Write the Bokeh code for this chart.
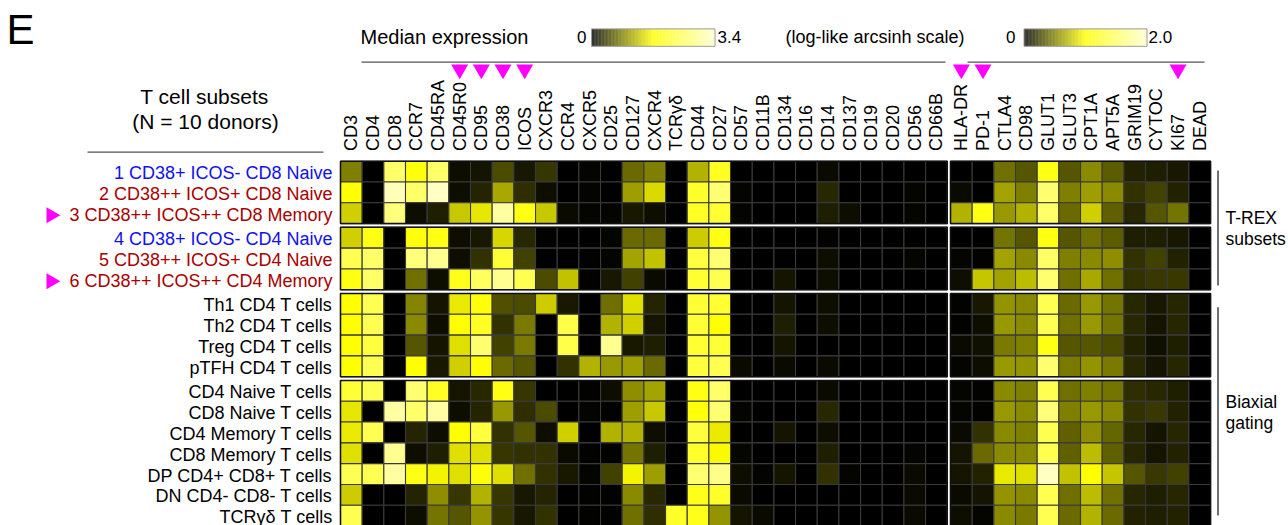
import math
from bokeh.plotting import figure
from bokeh.models import Range1d, ColumnDataSource, LinearColorMapper
from bokeh.transform import transform
from bokeh.core.properties import value
from bokeh.embed import file_html
from bokeh.resources import INLINE

# ---------------- data ----------------
panel_markers = ["CD3", "CD4", "CD8", "CCR7", "CD45RA", "CD45R0", "CD95", "CD38", "ICOS",
                 "CXCR3", "CCR4", "CXCR5", "CD25", "CD127", "CXCR4", "TCRγδ", "CD44", "CD27",
                 "CD57", "CD11B", "CD134", "CD16", "CD14", "CD137", "CD19", "CD20", "CD56", "CD66B"]
metab_markers = ["HLA-DR", "PD-1", "CTLA4", "CD98", "GLUT1", "GLUT3", "CPT1A", "APT5A",
                 "GRIM19", "CYTOC", "KI67", "DEAD"]
subsets = ["1 CD38+ ICOS- CD8 Naive", "2 CD38++ ICOS+ CD8 Naive", "3 CD38++ ICOS++ CD8 Memory",
           "4 CD38+ ICOS- CD4 Naive", "5 CD38++ ICOS+ CD4 Naive", "6 CD38++ ICOS++ CD4 Memory",
           "Th1 CD4 T cells", "Th2 CD4 T cells", "Treg CD4 T cells", "pTFH CD4 T cells",
           "CD4 Naive T cells", "CD8 Naive T cells", "CD4 Memory T cells", "CD8 Memory T cells",
           "DP CD4+ CD8+ T cells", "DN CD4- CD8- T cells", "TCRγδ T cells"]
subset_group = [0, 0, 0, 1, 1, 1, 2, 2, 2, 2, 3, 3, 3, 3, 3, 3, 3]
flagged_markers = ["CD45R0", "CD95", "CD38", "ICOS", "HLA-DR", "PD-1", "KI67"]
flagged_subsets = ["3 CD38++ ICOS++ CD8 Memory", "6 CD38++ ICOS++ CD4 Memory"]
panel_scale_max = 3.4
metab_scale_max = 2.0

# median arcsinh expression, surface panel (0 - 3.4)
panel_expr = [
    [0.85, 0, 2.55, 1.8, 2.55, 0.1, 0.14, 0.51, 0.17, 0.37, 0, 0.03, 0, 0.71, 0.85, 0, 1.19, 1.97, 0, 0, 0, 0, 0.07, 0, 0, 0, 0, 0],
    [1.7, 0, 3.23, 2.55, 3.33, 0.1, 0.24, 1.12, 0.31, 0.1, 0, 0.03, 0, 1.05, 1.46, 0, 2.04, 2.65, 0.03, 0, 0, 0, 0.27, 0, 0, 0, 0.03, 0],
    [1.39, 0, 2.72, 0.1, 0.2, 1.33, 1.53, 3.03, 1.87, 1.33, 0.07, 0.03, 0.03, 0.17, 0.1, 0, 2.0, 2.11, 0.03, 0, 0, 0, 0.2, 0.1, 0, 0, 0.03, 0],
    [1.39, 1.87, 0, 1.8, 1.87, 0.1, 0.17, 1.43, 0.27, 0.02, 0, 0, 0.03, 0.71, 0.71, 0, 1.36, 1.87, 0, 0, 0, 0, 0.02, 0, 0, 0, 0, 0],
    [2.38, 2.55, 0, 2.72, 2.89, 0.1, 0.34, 2.14, 0.44, 0, 0, 0.02, 0.03, 1.09, 1.29, 0, 2.21, 2.65, 0, 0, 0, 0, 0.1, 0, 0, 0, 0.03, 0],
    [1.87, 2.55, 0, 0.75, 0.1, 1.9, 2.48, 2.89, 2.38, 0.51, 1.29, 0.02, 0.17, 0.44, 0.07, 0, 2.11, 2.38, 0, 0, 0.14, 0, 0.1, 0, 0, 0, 0, 0],
    [1.7, 2.38, 0, 0.88, 0.14, 1.56, 1.77, 0.54, 0.51, 1.36, 0.17, 0, 0.75, 1.5, 0.24, 0, 2.14, 2.11, 0, 0, 0.14, 0, 0.1, 0, 0, 0, 0, 0],
    [1.7, 2.38, 0, 0.92, 0.1, 1.7, 2.0, 0.34, 0.82, 0, 2.31, 0, 1.19, 1.39, 0.14, 0, 2.14, 1.7, 0, 0, 0.2, 0, 0.1, 0, 0, 0, 0, 0],
    [1.7, 2.21, 0, 0.58, 0.14, 1.5, 2.62, 0.44, 0.82, 0, 2.31, 0, 2.89, 0.17, 0.2, 0, 2.11, 2.14, 0, 0, 0.14, 0, 0, 0, 0, 0, 0, 0],
    [1.7, 2.38, 0, 1.7, 0.17, 1.39, 1.7, 0.71, 0.58, 0, 0.34, 1.19, 1.02, 1.05, 0.71, 0, 2.21, 2.38, 0.07, 0, 0.07, 0, 0.07, 0, 0, 0, 0, 0],
    [2.14, 2.38, 0, 2.62, 2.0, 0.14, 0.27, 1.87, 0.37, 0, 0, 0.02, 0.1, 0.95, 1.09, 0, 1.87, 2.55, 0, 0, 0, 0, 0.07, 0, 0, 0, 0, 0],
    [1.53, 0, 3.03, 2.55, 3.03, 0.1, 0.24, 1.02, 0.31, 0.51, 0, 0.03, 0.02, 1.05, 1.33, 0, 1.77, 2.65, 0.03, 0, 0, 0, 0.27, 0, 0, 0, 0, 0],
    [1.56, 2.38, 0, 0.24, 0.1, 1.7, 2.21, 0.34, 0.58, 0.1, 1.39, 0, 1.19, 1.19, 0.1, 0, 2.21, 1.56, 0, 0, 0.14, 0, 0.1, 0, 0, 0, 0, 0],
    [1.5, 0, 2.89, 0.1, 0.2, 1.5, 1.5, 0.37, 0.34, 0.34, 0.07, 0.02, 0.02, 0.78, 0.2, 0, 2.04, 1.67, 0.05, 0, 0, 0, 0.2, 0, 0, 0, 0.03, 0],
    [2.38, 2.38, 3.03, 1.87, 1.63, 1.5, 1.77, 1.5, 0.75, 0.34, 0.17, 0.03, 0.44, 1.63, 1.05, 0, 2.62, 2.82, 0.1, 0.03, 0.14, 0, 0.34, 0.03, 0, 0, 0.07, 0],
    [1.36, 0, 0, 0.24, 0.95, 0.37, 1.19, 0.37, 0.17, 0.24, 0, 0.02, 0.02, 0.92, 0.27, 0, 1.9, 2.04, 0.07, 0, 0, 0, 0, 0, 0, 0, 0.07, 0],
    [2.38, 0, 0, 0.1, 0.78, 0.58, 0.99, 0.37, 0.17, 0.34, 0, 0.02, 0.02, 0.75, 0.31, 2.04, 1.9, 0.99, 0.14, 0.07, 0, 0, 0, 0, 0, 0, 0.07, 0],
]

# median arcsinh expression, activation / metabolic panel (0 - 2.0)
metab_expr = [
    [0, 0, 0.44, 0.34, 1.1, 0.34, 0.54, 0.36, 0.14, 0.12, 0.1, 0],
    [0.04, 0, 0.64, 0.5, 1.54, 0.5, 0.62, 0.54, 0.2, 0.26, 0.14, 0],
    [0.7, 1.1, 0.6, 0.7, 1.5, 0.42, 0.82, 0.38, 0.15, 0.34, 0.46, 0],
    [0, 0, 0.46, 0.34, 1.1, 0.34, 0.44, 0.36, 0.12, 0.12, 0.1, 0],
    [0.02, 0.01, 0.64, 0.54, 1.5, 0.5, 0.54, 0.56, 0.2, 0.26, 0.14, 0],
    [0.06, 0.78, 0.64, 0.74, 1.54, 0.44, 0.66, 0.44, 0.2, 0.22, 0.22, 0],
    [0.01, 0.1, 0.58, 0.54, 1.4, 0.42, 0.6, 0.46, 0.16, 0.1, 0.15, 0],
    [0.01, 0.06, 0.6, 0.54, 1.4, 0.44, 0.6, 0.46, 0.16, 0.08, 0.15, 0],
    [0.04, 0.07, 0.48, 0.5, 1.1, 0.34, 0.34, 0.3, 0.14, 0.07, 0.12, 0],
    [0.02, 0.06, 0.6, 0.58, 1.54, 0.48, 0.58, 0.48, 0.16, 0.08, 0.15, 0],
    [0.02, 0.01, 0.54, 0.5, 1.4, 0.44, 0.5, 0.46, 0.18, 0.16, 0.12, 0],
    [0.02, 0.01, 0.6, 0.54, 1.6, 0.5, 0.6, 0.54, 0.2, 0.22, 0.14, 0],
    [0.04, 0.2, 0.54, 0.5, 1.4, 0.38, 0.56, 0.4, 0.16, 0.08, 0.15, 0],
    [0.08, 0.42, 0.54, 0.54, 1.4, 0.38, 0.74, 0.38, 0.15, 0.08, 0.14, 0],
    [0.08, 0.14, 0.92, 0.88, 1.96, 0.76, 1.0, 0.78, 0.34, 0.22, 0.26, 0],
    [0.04, 0.08, 0.58, 0.54, 1.4, 0.44, 0.74, 0.44, 0.15, 0.12, 0.15, 0],
    [0.06, 0.02, 0.54, 0.48, 1.4, 0.42, 0.7, 0.42, 0.14, 0.12, 0.14, 0],
]

# ---------------- style / layout ----------------
FONT = value("Liberation Sans")
BLUE = "#1010ee"
RED = "#a80000"
MAGENTA = "#ff00ff"
row_label_colors = [BLUE, RED, RED, BLUE, RED, RED] + ["#000000"] * 11


def make_palette(n=256):
    pal = []
    for k in range(n):
        t = k / (n - 1)
        if t <= 0.5:
            v = int(round(255 * t / 0.5))
            pal.append("#%02x%02x00" % (v, v))
        else:
            b = int(round(204 * (t - 0.5) / 0.5))
            pal.append("#ffff%02x" % b)
    return pal


PAL = make_palette()

W, H = 1288, 525
CW, RH = 21.67, 20.8          # pixels per column / row unit
OX, OY = 340.0, 160.7         # canvas pixel of data origin (top-left of heatmap)
GX, GY = 0.15, 0.18           # gaps between blocks (in cell units)


def X(px):
    return (px - OX) / CW


def Y(py):
    return (py - OY) / RH


p = figure(width=W, height=H,
           x_range=Range1d(X(0), X(W)), y_range=Range1d(Y(H), Y(0)),
           output_backend="svg", toolbar_location=None,
           x_axis_type=None, y_axis_type=None, min_border=0)
p.outline_line_color = None
p.background_fill_color = "white"
p.border_fill_color = "white"

n_p = len(panel_markers)
n_m = len(metab_markers)
p_cx = [j + 0.5 for j in range(n_p)]
m_cx = [n_p + GX + j + 0.5 for j in range(n_m)]
r_cy = [i + subset_group[i] * GY + 0.5 for i in range(len(subsets))]

# ---------------- heatmap cells ----------------
px_, py_, pv_ = [], [], []
for i, row in enumerate(panel_expr):
    for j, v in enumerate(row):
        px_.append(p_cx[j]); py_.append(r_cy[i]); pv_.append(v)
mx_, my_, mv_ = [], [], []
for i, row in enumerate(metab_expr):
    for j, v in enumerate(row):
        mx_.append(m_cx[j]); my_.append(r_cy[i]); mv_.append(v)

map_p = LinearColorMapper(palette=PAL, low=0, high=panel_scale_max)
map_m = LinearColorMapper(palette=PAL, low=0, high=metab_scale_max)

p.rect(x="x", y="y", width=1, height=1, source=ColumnDataSource(dict(x=px_, y=py_, v=pv_)),
       fill_color=transform("v", map_p), line_color="#3a3a3a", line_width=1.1)
p.rect(x="x", y="y", width=1, height=1, source=ColumnDataSource(dict(x=mx_, y=my_, v=mv_)),
       fill_color=transform("v", map_m), line_color="#3a3a3a", line_width=1.1)

# block outlines
for g in sorted(set(subset_group)):
    idx = [i for i, gg in enumerate(subset_group) if gg == g]
    top = idx[0] + g * GY
    nr = len(idx)
    p.rect(x=[n_p / 2, n_p + GX + n_m / 2], y=[top + nr / 2] * 2, width=[n_p, n_m], height=nr,
           fill_color=None, line_color="#111111", line_width=1.5)

# ---------------- column labels ----------------
p.text(x=p_cx + m_cx, y=[Y(150.5)] * (n_p + n_m), text=panel_markers + metab_markers,
       angle=math.pi / 2, text_align="left", text_baseline="middle",
       text_font=FONT, text_font_size="18px", text_color="black")

# flag triangles above columns
all_markers = panel_markers + metab_markers
all_cx = p_cx + m_cx
fx = [all_cx[all_markers.index(m)] for m in flagged_markers]
p.scatter(x=fx, y=[Y(68.9)] * len(fx), marker="inverted_triangle", size=17,
          fill_color=MAGENTA, line_color=None)

# ---------------- row labels ----------------
p.text(x=[X(332)] * len(subsets), y=[c + 1.5 / RH for c in r_cy], text=subsets,
       text_align="right", text_baseline="middle", text_font=FONT,
       text_font_size="18px", text_color=row_label_colors)
fy = [r_cy[subsets.index(s)] + 2 / RH for s in flagged_subsets]
p.scatter(x=[X(50.6)] * len(fy), y=fy, marker="triangle", size=16, angle=-math.pi / 2,
          fill_color=MAGENTA, line_color=None)

# ---------------- header ----------------
def label(x, y, t, size, align="left", color="black"):
    p.text(x=[X(x)], y=[Y(y)], text=[t], text_align=align, text_baseline="middle",
           text_font=FONT, text_font_size=size, text_color=color)


label(6, 28.7, "E", "42px")
label(360, 36.3, "Median expression", "20px")
label(586, 36.9, "0", "17px", align="right")
label(717, 36.9, "3.4", "17px")
label(785, 36.4, "(log-like arcsinh scale)", "18px")
label(1015, 36.9, "0", "17px", align="right")
label(1148, 36.9, "2.0", "17px")
label(204, 95.8, "T cell subsets", "21px", align="center")
label(205, 121.0, "(N = 10 donors)", "21px", align="center")
label(1225, 217.6, "T-REX", "17.5px")
label(1225, 238.8, "subsets", "17.5px")
label(1225, 401.5, "Biaxial", "17.5px")
label(1225, 422.2, "gating", "17.5px")

# colour bars (drawn through the same colour mappers)
def colorbar(x0, x1, y0, y1, mapper, vmax, n=160):
    lefts = [X(x0) + (X(x1) - X(x0)) * k / n for k in range(n)]
    rights = [X(x0) + (X(x1) - X(x0)) * (k + 1) / n for k in range(n)]
    vals = [vmax * (k + 0.5) / n for k in range(n)]
    src = ColumnDataSource(dict(l=lefts, r=rights, v=vals))
    p.quad(left="l", right="r", top=Y(y0), bottom=Y(y1), source=src,
           fill_color=transform("v", mapper), line_color=None)
    p.quad(left=[X(x0)], right=[X(x1)], top=[Y(y0)], bottom=[Y(y1)],
           fill_color=None, line_color="#9a9a9a", line_width=1)


colorbar(591, 714.5, 28.4, 45.8, map_p, panel_scale_max)
colorbar(1023.5, 1146.5, 28.4, 45.8, map_m, metab_scale_max)

# rules
p.segment(x0=[X(361), X(967), X(87)], y0=[Y(61.7), Y(61.7), Y(151.7)],
          x1=[X(945), X(1204), X(323)], y1=[Y(61.7), Y(61.7), Y(151.7)],
          line_color="#555555", line_width=1.3)
p.segment(x0=[X(1217.5), X(1217.5)], y0=[Y(170), Y(306.7)],
          x1=[X(1217.5), X(1217.5)], y1=[Y(285), Y(515)],
          line_color="#222222", line_width=1.3)

open("out.html", "w").write(file_html(p, INLINE))
